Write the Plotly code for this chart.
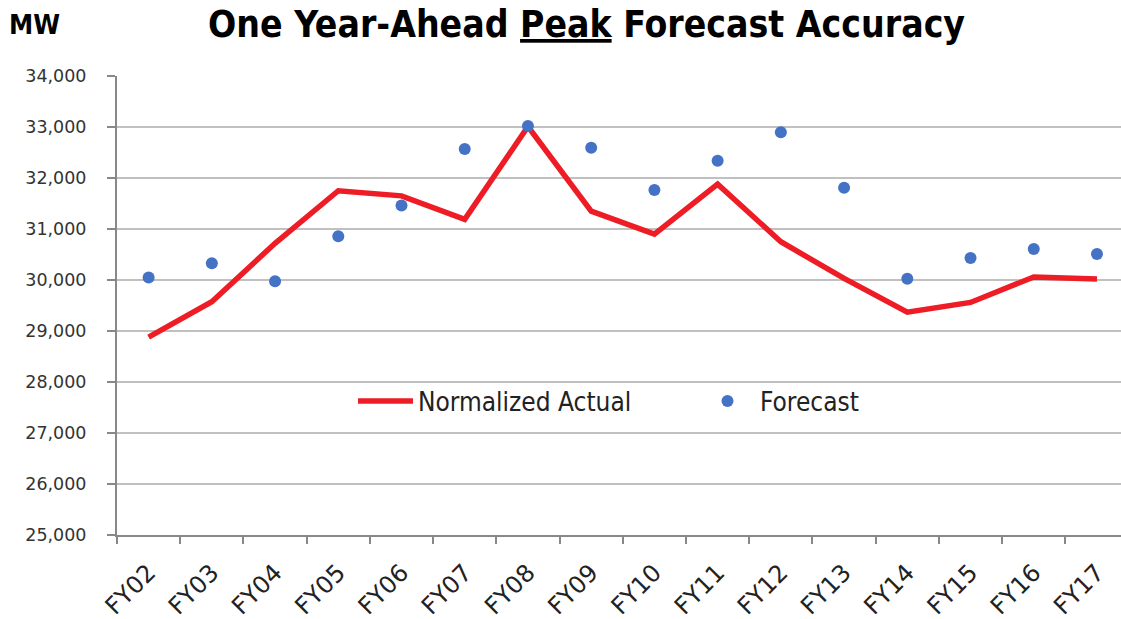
import plotly.graph_objects as go

categories = ["FY02", "FY03", "FY04", "FY05", "FY06", "FY07", "FY08", "FY09",
              "FY10", "FY11", "FY12", "FY13", "FY14", "FY15", "FY16", "FY17"]
normalized_actual = [28880, 29575, 30720, 31750, 31650, 31190, 33010, 31350,
                     30900, 31880, 30750, 30030, 29370, 29560, 30060, 30020]
forecast = [30050, 30330, 29975, 30860, 31460, 32570, 33020, 32595,
            31765, 32340, 32895, 31810, 30025, 30430, 30610, 30510]
y_ticks = [25000, 26000, 27000, 28000, 29000, 30000, 31000, 32000, 33000, 34000]

W, H = 1121, 619
L, R, T, B = 117, 0, 76, 84
PW, PH = W - L - R, H - T - B


def px_x(x):
    return (x - L) / PW


def px_y(y):
    return (H - B - y) / PH


COND = "DejaVu Sans Condensed, DejaVu Sans"

fig = go.Figure()
fig.add_trace(go.Scatter(x=categories, y=normalized_actual, mode="lines",
                         name="Normalized Actual", legend="legend",
                         line=dict(color="#ee1c25", width=5.5)))
fig.add_trace(go.Scatter(x=categories, y=forecast, mode="markers",
                         name="Forecast", legend="legend2",
                         marker=dict(color="#4472c4", size=12)))

legend_common = dict(yanchor="middle", xanchor="left", bgcolor="rgba(0,0,0,0)",
                     font=dict(size=26, color="#222222", family=COND),
                     itemwidth=55)

fig.update_layout(
    width=W, height=H,
    margin=dict(l=L, r=R, t=T, b=B, autoexpand=False),
    paper_bgcolor="white", plot_bgcolor="white",
    font=dict(family="DejaVu Sans", color="#333333"),
    showlegend=True,
    legend=dict(x=px_x(353), y=px_y(401), **legend_common),
    legend2=dict(x=px_x(695), y=px_y(401), **legend_common),
    annotations=[
        dict(text="<b>One Year-Ahead <u>Peak</u> Forecast Accuracy</b>",
             x=px_x(586), y=px_y(25), xref="paper", yref="paper", showarrow=False,
             xanchor="center", yanchor="middle",
             font=dict(size=37, color="black", family=COND)),
        dict(text="<b>MW</b>", x=px_x(7), y=px_y(24), xref="paper", yref="paper",
             showarrow=False, xanchor="left", yanchor="middle",
             font=dict(size=27, color="black", family=COND)),
    ],
)

fig.update_xaxes(type="category", range=[-0.5, 15.38], tickson="boundaries",
                 ticks="outside", ticklen=7, tickcolor="#888888", tickwidth=2,
                 showline=True, linecolor="#888888", linewidth=2,
                 showgrid=False, tickangle=-45, ticklabelstandoff=12,
                 tickfont=dict(size=24, color="#222222"))
fig.update_yaxes(range=[25000, 34000], tickvals=y_ticks,
                 ticktext=[f"{v:,}" for v in y_ticks],
                 ticks="outside", ticklen=8, tickcolor="#888888", tickwidth=2,
                 showline=True, linecolor="#888888", linewidth=2,
                 showgrid=True, gridcolor="#c0c0c0", gridwidth=2,
                 ticklabelstandoff=17,
                 tickfont=dict(size=17.5, color="#333333"), zeroline=False)

fig.write_html("out.html",
               config={"displayModeBar": False},
               post_script="document.body.style.margin='0';"
                           "document.body.style.overflow='hidden';")
